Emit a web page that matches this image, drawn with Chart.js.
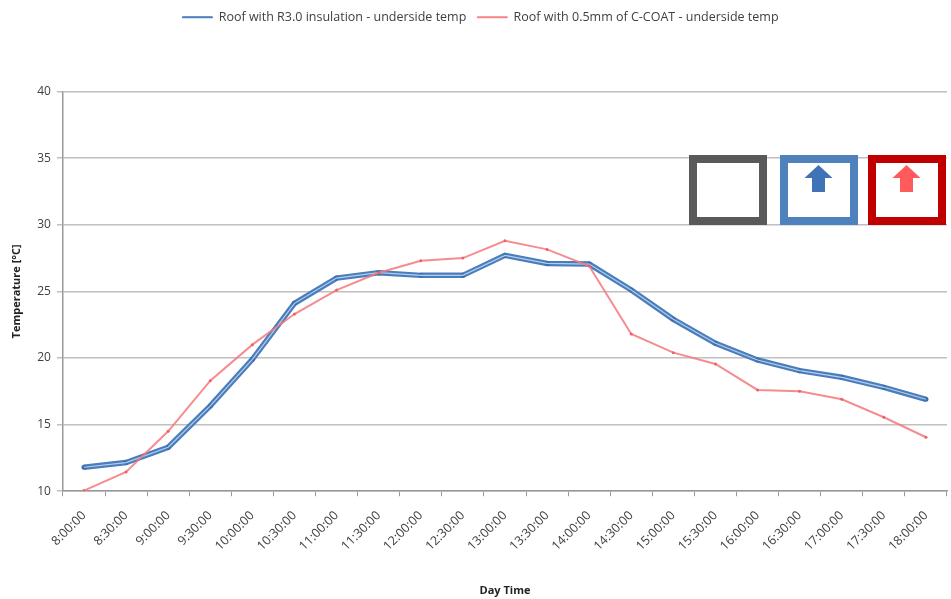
<!DOCTYPE html>
<html>
<head>
<meta charset="utf-8">
<script src="https://cdn.jsdelivr.net/npm/chart.js@4"></script>
<style>
  html, body { margin: 0; padding: 0; background: #fff; }
  #wrap { width: 951px; height: 599px; position: relative; }
</style>
</head>
<body>
<div id="wrap"><canvas id="chart"></canvas></div>
<script>
// time of day, every half hour
const timeLabels = [
  '8:00:00', '8:30:00', '9:00:00', '9:30:00', '10:00:00', '10:30:00', '11:00:00',
  '11:30:00', '12:00:00', '12:30:00', '13:00:00', '13:30:00', '14:00:00', '14:30:00',
  '15:00:00', '15:30:00', '16:00:00', '16:30:00', '17:00:00', '17:30:00', '18:00:00'
];

// underside temperatures [°C]
const insulatedTemps = [
  11.8, 12.15, 13.3, 16.4, 19.9, 24.1, 26.0, 26.4, 26.2, 26.2, 27.7,
  27.1, 27.05, 25.1, 22.9, 21.1, 19.85, 19.05, 18.55, 17.8, 16.9
];
const coatTemps = [
  10.05, 11.45, 14.5, 18.3, 21.0, 23.3, 25.1, 26.4, 27.3, 27.5, 28.8,
  28.15, 26.9, 21.8, 20.4, 19.55, 17.6, 17.5, 16.9, 15.55, 14.05
];

const yTicks = [10, 15, 20, 25, 30, 35, 40];

const textColor = '#404040';
const fontFamily = '"Open Sans", "Liberation Sans", sans-serif';

// push the plot down below the legend
const legendGap = {
  id: 'legendGap',
  beforeInit(chart) {
    const origFit = chart.legend.fit;
    chart.legend.fit = function () {
      origFit.bind(chart.legend)();
      this.height += 58;
    };
  }
};

// the three framed icons in the upper right
const iconBoxes = {
  id: 'iconBoxes',
  afterDraw(chart) {
    const ctx = chart.ctx;
    const frames = [
      { x: 689, color: '#595959', arrow: null },
      { x: 780, color: '#4f81bd', arrow: '#3f72b6' },
      { x: 868, color: '#c00000', arrow: '#ff5b5b' }
    ];
    ctx.save();
    frames.forEach(f => {
      ctx.lineWidth = 8;
      ctx.strokeStyle = f.color;
      ctx.fillStyle = '#fff';
      ctx.fillRect(f.x, 155, 78, 70);
      ctx.strokeRect(f.x + 4, 159, 70, 62);
      if (f.arrow) {
        const cx = f.x + 38.5;
        ctx.fillStyle = f.arrow;
        ctx.beginPath();
        ctx.moveTo(cx, 165);
        ctx.lineTo(cx + 14, 178);
        ctx.lineTo(cx + 6.5, 178);
        ctx.lineTo(cx + 6.5, 192);
        ctx.lineTo(cx - 6.5, 192);
        ctx.lineTo(cx - 6.5, 178);
        ctx.lineTo(cx - 14, 178);
        ctx.closePath();
        ctx.fill();
      }
    });
    ctx.restore();
  }
};

new Chart(document.getElementById('chart'), {
  type: 'line',
  data: {
    labels: timeLabels,
    datasets: [
      {
        label: 'Roof with 0.5mm of C-COAT - underside temp',
        data: coatTemps,
        borderColor: 'rgba(244, 120, 125, 0.85)',
        backgroundColor: 'rgba(244, 120, 125, 0.85)',
        borderWidth: 2,
        pointRadius: 1.5,
        pointBackgroundColor: '#f06068',
        pointBorderWidth: 0,
        tension: 0,
        order: 0
      },
      {
        label: 'highlight',
        data: insulatedTemps,
        borderColor: '#b4cdee',
        borderWidth: 1.2,
        pointRadius: 0,
        tension: 0,
        order: 1
      },
      {
        label: 'Roof with R3.0 insulation - underside temp',
        data: insulatedTemps,
        borderColor: '#4a7ebb',
        backgroundColor: '#4a7ebb',
        borderWidth: 5.5,
        pointRadius: 2.5,
        pointBackgroundColor: '#3d6fae',
        pointBorderWidth: 0,
        tension: 0,
        order: 2
      }
    ]
  },
  options: {
    responsive: true,
    maintainAspectRatio: false,
    animation: false,
    layout: { padding: { top: 0, right: 0, left: 10, bottom: 2 } },
    plugins: {
      legend: {
        position: 'top',
        reverse: true,
        labels: {
          filter: item => item.text !== 'highlight',
          generateLabels: chart =>
            Chart.defaults.plugins.legend.labels.generateLabels(chart)
              .map(item => ({ ...item, lineWidth: 1 })),
          boxWidth: 30,
          boxHeight: 1,
          padding: 11,
          color: textColor,
          font: { family: fontFamily, size: 12.5 }
        }
      },
      tooltip: { enabled: false }
    },
    scales: {
      x: {
        offset: true,
        grid: {
          display: true,
          drawOnChartArea: false,
          drawTicks: true,
          offset: true,
          tickLength: 5,
          color: '#999'
        },
        border: { color: '#999', width: 1.5 },
        ticks: {
          color: textColor,
          minRotation: 45,
          maxRotation: 45,
          autoSkip: false,
          padding: 12,
          font: { family: fontFamily, size: 12.5 }
        },
        title: {
          display: true,
          text: 'Day Time',
          color: '#222',
          padding: { top: 18, bottom: 0 },
          font: { family: fontFamily, size: 11, weight: 'bold' }
        }
      },
      y: {
        min: 10,
        max: 40,
        afterBuildTicks: axis => { axis.ticks = yTicks.map(v => ({ value: v })); },
        grid: {
          color: '#c0c0c0',
          lineWidth: 1.5,
          tickLength: 6,
          drawTicks: true
        },
        border: { color: '#999', width: 1.5 },
        ticks: {
          color: textColor,
          padding: 6,
          font: { family: fontFamily, size: 12 }
        },
        title: {
          display: true,
          text: 'Temperature [°C]',
          color: '#222',
          padding: { top: 0, bottom: 8 },
          font: { family: fontFamily, size: 11, weight: 'bold' }
        }
      }
    }
  },
  plugins: [legendGap, iconBoxes]
});
</script>
</body>
</html>
